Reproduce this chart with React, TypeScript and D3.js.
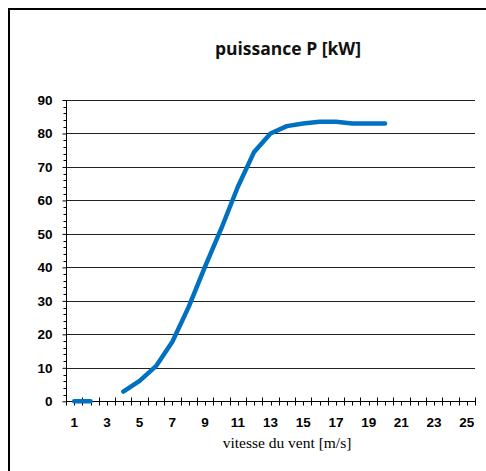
import React, { useEffect, useRef } from 'react'
import * as d3 from 'd3'

// wind speed categories (m/s)
const speeds = d3.range(1, 26)
// power in kW, null where no value
const power: (number | null)[] = [
  0, 0, null, 2.9, 6.1, 10.5, 17.8, 28.2, 40.2, 51.7, 64, 74.5, 80, 82.2, 83, 83.5, 83.5, 83, 83, 83,
  null, null, null, null, null,
]
const yTicks = [0, 10, 20, 30, 40, 50, 60, 70, 80, 90]
const xLabels = [1, 3, 5, 7, 9, 11, 13, 15, 17, 19, 21, 23, 25]

const App = () => {
  const svgRef = useRef<SVGSVGElement>(null)

  useEffect(() => {
    const width = 486
    const height = 471
    const plot = { left: 66, right: 475, top: 100, bottom: 401.3 }

    const svg = d3.select(svgRef.current).attr('width', width).attr('height', height)
    svg.selectAll('*').remove()

    // outer frame (cut off on right and bottom)
    svg
      .append('rect')
      .attr('x', 9)
      .attr('y', 9)
      .attr('width', 500)
      .attr('height', 500)
      .attr('fill', 'white')
      .attr('stroke', '#000')
      .attr('stroke-width', 2)

    const xScale = d3.scaleBand<number>().domain(speeds).range([plot.left, plot.right]).padding(0)
    const yScale = d3.scaleLinear().domain([0, 90]).range([plot.bottom, plot.top])

    // title
    svg
      .append('text')
      .text('puissance P [kW]')
      .attr('x', 288)
      .attr('y', 55)
      .attr('text-anchor', 'middle')
      .style('font-family', '"Open Sans", sans-serif')
      .style('font-weight', 'bold')
      .style('font-size', '17.5px')
      .style('fill', '#111')

    // gridlines
    svg
      .append('g')
      .selectAll('line')
      .data(yTicks.filter((d) => d > 0))
      .enter()
      .append('line')
      .attr('x1', plot.left)
      .attr('x2', plot.right)
      .attr('y1', (d) => Math.round(yScale(d)) + 0.5)
      .attr('y2', (d) => Math.round(yScale(d)) + 0.5)
      .attr('stroke', '#222')
      .attr('stroke-width', 1)

    // y axis
    const yAxis = svg
      .append('g')
      .attr('transform', `translate(${plot.left + 0.5}, 0)`)
      .call(d3.axisLeft(yScale).tickValues(yTicks).tickSize(4).tickPadding(10))
    yAxis.select('.domain').remove()
    yAxis
      .append('line')
      .attr('y1', plot.top)
      .attr('y2', plot.bottom)
      .attr('stroke', '#000')
    yAxis
      .selectAll('.minor')
      .data(d3.range(0, 91, 2).filter((d) => d % 10 !== 0))
      .enter()
      .append('line')
      .attr('x1', -3)
      .attr('x2', 0)
      .attr('y1', (d) => Math.round(yScale(d)) + 0.5)
      .attr('y2', (d) => Math.round(yScale(d)) + 0.5)
      .attr('stroke', '#000')
    yAxis
      .selectAll('text')
      .style('font-family', '"Liberation Sans", Arial, sans-serif')
      .style('font-weight', 'bold')
      .style('font-size', '13.5px')
      .style('fill', '#000')

    // x axis
    const xAxis = svg.append('g').attr('transform', `translate(0, ${Math.round(plot.bottom) + 0.5})`)
    xAxis
      .append('line')
      .attr('x1', plot.left)
      .attr('x2', plot.right)
      .attr('stroke', '#000')
    const bounds = speeds.map((s) => xScale(s) as number).concat([plot.right])
    xAxis
      .selectAll('.major')
      .data(bounds)
      .enter()
      .append('line')
      .attr('x1', (d) => Math.round(d) + 0.5)
      .attr('x2', (d) => Math.round(d) + 0.5)
      .attr('y1', -4)
      .attr('y2', 4)
      .attr('stroke', '#000')
    xAxis
      .selectAll('.minor')
      .data(speeds)
      .enter()
      .append('line')
      .attr('x1', (d) => Math.round((xScale(d) as number) + xScale.bandwidth() / 2) + 0.5)
      .attr('x2', (d) => Math.round((xScale(d) as number) + xScale.bandwidth() / 2) + 0.5)
      .attr('y1', 0)
      .attr('y2', 4)
      .attr('stroke', '#000')
    xAxis
      .selectAll('text')
      .data(xLabels)
      .enter()
      .append('text')
      .text((d) => d)
      .attr('x', (d) => (xScale(d) as number) + xScale.bandwidth() / 2)
      .attr('y', 25)
      .attr('text-anchor', 'middle')
      .style('font-family', '"Liberation Sans", Arial, sans-serif')
      .style('font-weight', 'bold')
      .style('font-size', '13.5px')

    // x axis title
    svg
      .append('text')
      .text('vitesse du vent [m/s]')
      .attr('x', 287)
      .attr('y', 448)
      .attr('text-anchor', 'middle')
      .style('font-family', '"Liberation Serif", "Times New Roman", serif')
      .style('font-size', '15.5px')

    // power curve
    const line = d3
      .line<number | null>()
      .defined((d) => d !== null)
      .x((d, i) => (xScale(speeds[i]) as number) + xScale.bandwidth() / 2)
      .y((d) => yScale(d as number))

    svg
      .append('path')
      .datum(power)
      .attr('d', line)
      .attr('fill', 'none')
      .attr('stroke', '#0070C0')
      .attr('stroke-width', 4.5)
      .attr('stroke-linejoin', 'round')
      .attr('stroke-linecap', 'round')
  }, [])

  return <svg ref={svgRef} style={{ position: 'absolute', left: 0, top: 0 }}></svg>
}

export default App
